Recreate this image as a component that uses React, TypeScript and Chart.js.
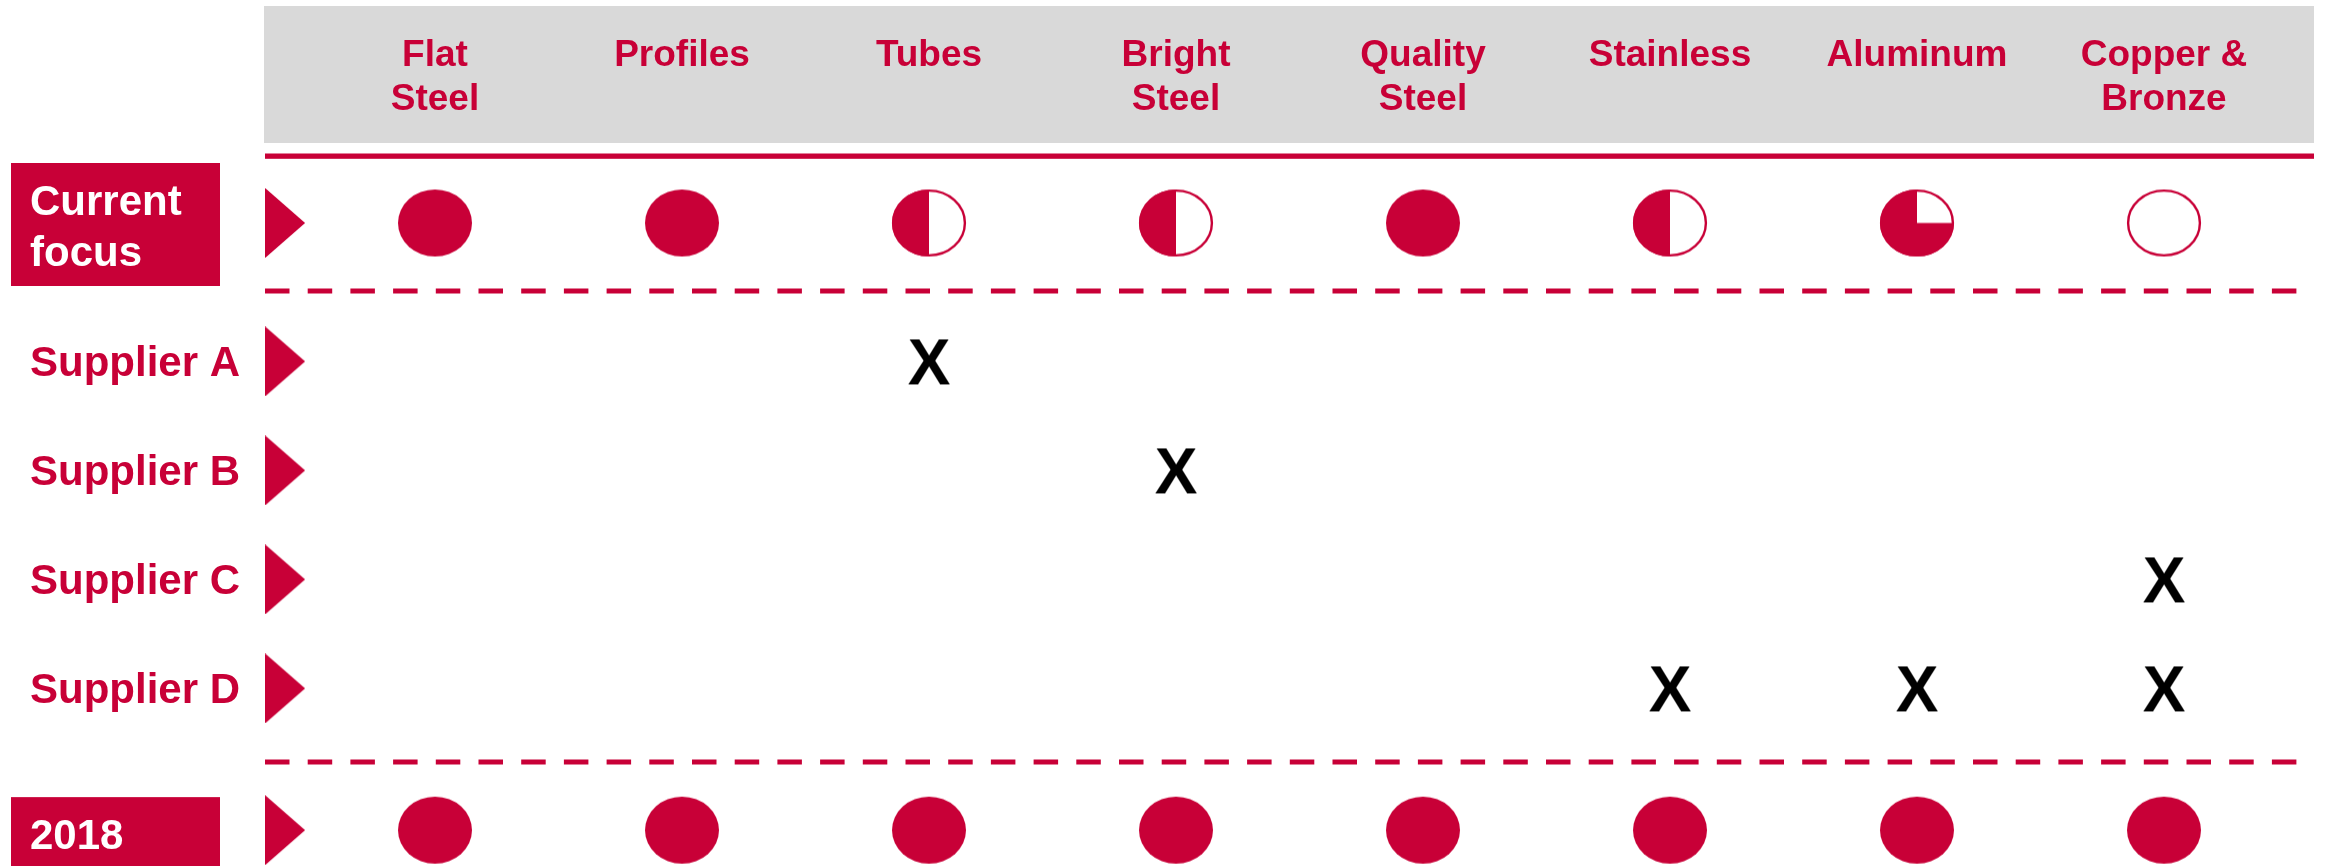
import React, { useEffect, useRef } from 'react';
import { Chart, registerables } from 'chart.js';

Chart.register(...registerables);

// ---------- data ----------
const categories: string[][] = [
  ['Flat', 'Steel'],
  ['Profiles'],
  ['Tubes'],
  ['Bright', 'Steel'],
  ['Quality', 'Steel'],
  ['Stainless'],
  ['Aluminum'],
  ['Copper &', 'Bronze'],
];

const rowLabels: string[][] = [
  ['Current', 'focus'],
  ['Supplier A'],
  ['Supplier B'],
  ['Supplier C'],
  ['Supplier D'],
  ['2018'],
];
const rowBoxed = [true, false, false, false, false, true];
const rowSection = [0, 1, 1, 1, 1, 2];

// Harvey-ball fill share (1 = full, 0.5 = half, 0.75 = three quarters, 0 = empty)
const currentFocus = [1, 1, 0.5, 0.5, 1, 0.5, 0.75, 0];
const target2018 = [1, 1, 1, 1, 1, 1, 1, 1];

// 1 = supplier covers the category (marked with X)
const supplierA = [0, 0, 1, 0, 0, 0, 0, 0];
const supplierB = [0, 0, 0, 1, 0, 0, 0, 0];
const supplierC = [0, 0, 0, 0, 0, 0, 0, 1];
const supplierD = [0, 0, 0, 0, 0, 1, 1, 1];

// ---------- style / layout ----------
const RED = '#C80037';
const GRAY = '#D9D9D9';
const FONT = "'Liberation Sans', Arial, Helvetica, sans-serif";
const W = 2325;
const H = 866;
const COL0_PX = 435;
const COL_STEP_PX = 247;
const ROW0_PX = 223;
const ROW_STEP_PX = 109;
const SECTION_GAP = [0, 0.27, 0.57];
const MARKER_X = -0.607;

const rowY = (r: number) => r + SECTION_GAP[rowSection[r]];

function makeBall(f: number): HTMLCanvasElement {
  const rx = 37, ry = 33.5, pad = 2;
  const c = document.createElement('canvas');
  c.width = Math.round(2 * rx + 2 * pad);
  c.height = Math.round(2 * ry + 2 * pad);
  const g = c.getContext('2d')!;
  const cx = c.width / 2, cy = c.height / 2;
  g.beginPath();
  g.ellipse(cx, cy, rx, ry, 0, 0, Math.PI * 2);
  g.fillStyle = f >= 1 ? RED : '#ffffff';
  g.fill();
  if (f > 0 && f < 1) {
    g.beginPath();
    g.moveTo(cx, cy);
    g.ellipse(cx, cy, rx, ry, 0, -Math.PI / 2, -Math.PI / 2 - f * Math.PI * 2, true);
    g.closePath();
    g.fillStyle = RED;
    g.fill();
  }
  if (f < 1) {
    g.beginPath();
    g.ellipse(cx, cy, rx - 1.1, ry - 1.1, 0, 0, Math.PI * 2);
    g.strokeStyle = RED;
    g.lineWidth = 2.4;
    g.stroke();
  }
  return c;
}

function makeX(): HTMLCanvasElement {
  const c = document.createElement('canvas');
  c.width = 64;
  c.height = 64;
  const g = c.getContext('2d')!;
  g.font = `bold 64px ${FONT}`;
  g.fillStyle = '#000000';
  g.textAlign = 'center';
  g.textBaseline = 'alphabetic';
  g.fillText('X', 32, 32 + 0.716 * 64 / 2);
  return c;
}

function makeTriangle(): HTMLCanvasElement {
  const c = document.createElement('canvas');
  c.width = 40;
  c.height = 70;
  const g = c.getContext('2d')!;
  g.beginPath();
  g.moveTo(0, 0);
  g.lineTo(40, 35);
  g.lineTo(0, 70);
  g.closePath();
  g.fillStyle = RED;
  g.fill();
  return c;
}

const backgroundPlugin = {
  id: 'matrixBackground',
  beforeDatasetsDraw(chart: any) {
    const { ctx } = chart;
    const xs = chart.scales.x;
    const ys = chart.scales.y;
    const left = 264;
    const right = 2314;
    ctx.save();

    // header band
    ctx.fillStyle = GRAY;
    ctx.fillRect(left, 6, right - left, 137);
    ctx.fillStyle = RED;
    ctx.font = `bold 37px ${FONT}`;
    ctx.textAlign = 'center';
    ctx.textBaseline = 'alphabetic';
    categories.forEach((lines, i) => {
      const px = xs.getPixelForValue(i);
      lines.forEach((t, k) => ctx.fillText(t, px, 66 + k * 44));
    });

    // solid rule under header
    ctx.fillRect(left + 1, 153.5, right - left - 1, 5.3);

    // dashed separators
    ctx.strokeStyle = RED;
    ctx.lineWidth = 5.2;
    ctx.setLineDash([24.5, 18.2]);
    ctx.lineCap = 'butt';
    const seps = [291, 762];
    seps.forEach((y) => {
      ctx.beginPath();
      ctx.moveTo(left + 1, y);
      ctx.lineTo(right, y);
      ctx.stroke();
    });
    ctx.setLineDash([]);

    // row labels
    ctx.textAlign = 'left';
    ctx.font = `bold 42px ${FONT}`;
    rowLabels.forEach((lines, r) => {
      const py = ys.getPixelForValue(rowY(r));
      const n = lines.length;
      if (rowBoxed[r]) {
        const top = py - 33 - (n - 1) * 27;
        const h = 72 + (n - 1) * 51;
        ctx.fillStyle = RED;
        ctx.fillRect(11, top, 209, h);
        ctx.fillStyle = '#ffffff';
        lines.forEach((t, k) => ctx.fillText(t, 30, py + 19 - (n - 1) * 27 + k * 51));
      } else {
        ctx.fillStyle = RED;
        lines.forEach((t, k) => ctx.fillText(t, 30, py + 15 + k * 51));
      }
    });
    ctx.restore();
  },
};

export default function App() {
  const ref = useRef<HTMLCanvasElement | null>(null);

  useEffect(() => {
    if (!ref.current) return;
    const ballCache: Record<string, HTMLCanvasElement> = {};
    const ball = (f: number) => (ballCache[f] ||= makeBall(f));
    const xMark = makeX();
    const tri = makeTriangle();

    const ballSet = (values: number[], r: number) => ({
      label: rowLabels[r].join(' '),
      data: values.map((_, i) => ({ x: i, y: rowY(r) })),
      pointStyle: values.map((v) => ball(v)),
      pointRadius: 36,
    });
    const xSet = (values: number[], r: number) => ({
      label: rowLabels[r].join(' '),
      data: values.flatMap((v, i) => (v ? [{ x: i, y: rowY(r) }] : [])),
      pointStyle: xMark,
      pointRadius: 30,
    });

    const chart = new Chart(ref.current, {
      type: 'scatter',
      data: {
        datasets: [
          {
            label: 'markers',
            data: rowLabels.map((_, r) => ({ x: MARKER_X, y: rowY(r) })),
            pointStyle: tri,
            pointRadius: 30,
          },
          ballSet(currentFocus, 0),
          xSet(supplierA, 1),
          xSet(supplierB, 2),
          xSet(supplierC, 3),
          xSet(supplierD, 4),
          ballSet(target2018, 5),
        ] as any,
      },
      options: {
        animation: false,
        responsive: false,
        devicePixelRatio: 1,
        events: [],
        layout: { padding: 0, autoPadding: false },
        plugins: { legend: { display: false }, tooltip: { enabled: false } },
        scales: {
          x: {
            type: 'linear',
            display: false,
            min: -COL0_PX / COL_STEP_PX,
            max: (W - COL0_PX) / COL_STEP_PX,
          },
          y: {
            type: 'linear',
            display: false,
            reverse: true,
            min: -ROW0_PX / ROW_STEP_PX,
            max: (H - ROW0_PX) / ROW_STEP_PX,
          },
        },
      } as any,
      plugins: [backgroundPlugin],
    });
    return () => chart.destroy();
  }, []);

  return (
    <div style={{ position: 'absolute', left: 0, top: 0, width: W, height: H, background: '#ffffff' }}>
      <canvas ref={ref} width={W} height={H} style={{ display: 'block' }} />
    </div>
  );
}
